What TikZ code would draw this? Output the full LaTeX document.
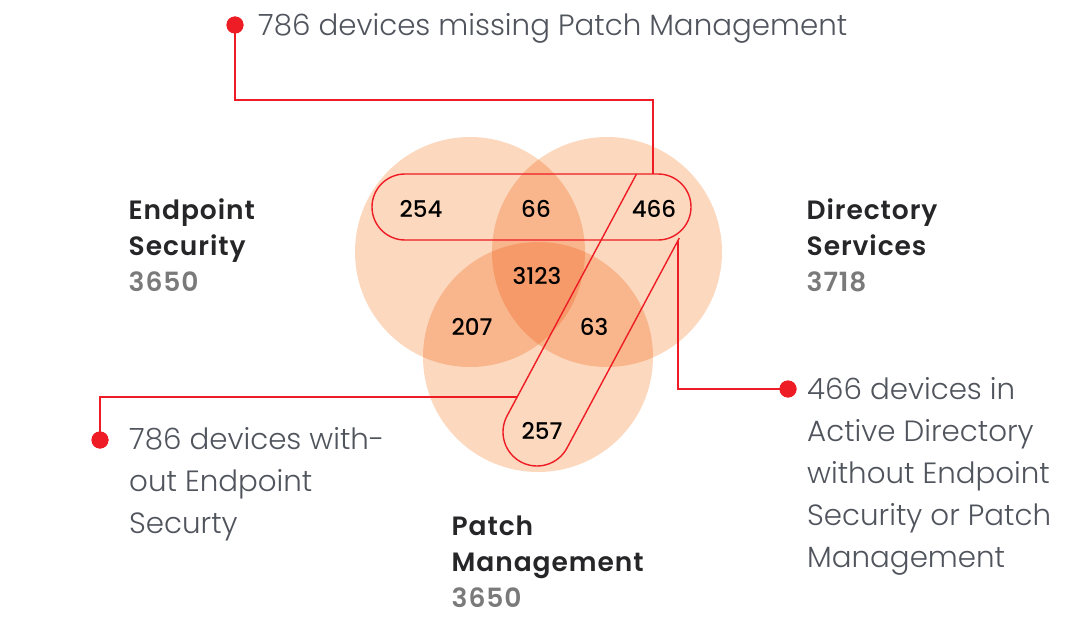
\documentclass[tikz,border=0pt]{standalone}
\usepackage{fontspec}
\setmainfont{Poppins}
\newfontfamily\lightf{Poppins Light}
\newfontfamily\mediumf{Poppins Medium}
\newfontfamily\headf[LetterSpace=3.5]{Poppins SemiBold}
\usetikzlibrary{shapes.misc,calc}
\definecolor{vennfill}{RGB}{252,216,190}
\definecolor{redline}{RGB}{238,28,36}
\definecolor{labelgray}{RGB}{80,84,92}
\definecolor{headdark}{RGB}{38,38,40}
\definecolor{headnum}{RGB}{122,122,122}
\begin{document}
\begin{tikzpicture}[x=1pt,y=-1pt,
  venn/.style={fill=vennfill},
  redl/.style={draw=redline,line width=1.4pt},
  dotnode/.style={circle,fill=redline,inner sep=0pt,minimum size=17pt},
  num/.style={font=\mediumf\fontsize{23}{26}\selectfont,text=black,inner sep=0pt},
  lbl/.style={anchor=base west,inner sep=0pt,text=labelgray,font=\lightf\fontsize{29.3}{42}\selectfont},
  head/.style={anchor=base west,inner sep=0pt,font=\headf\fontsize{26.5}{36}\selectfont}]
\useasboundingbox (0,0) rectangle (1080,634);

% Venn circles
\begin{scope}[blend group=multiply]
  \fill[venn] (470,252) circle[radius=115];
  \fill[venn] (607,252) circle[radius=115];
  \fill[venn] (538,357) circle[radius=115];
\end{scope}

% highlight capsules
\node[redl,rounded rectangle,minimum width=319pt,minimum height=66pt,inner sep=0pt] (hbar) at (531.5,207) {};
\coordinate (B) at (537,432);
\coordinate (ltop) at (636.5,174);
\coordinate (lbot) at ($(B)+(208.15:34)$);
\coordinate (rbot) at ($(B)+(28.15:34)$);
\coordinate (rtop) at (679.3,238.1);
\draw[redl] (ltop) -- (lbot) arc[start angle=208.15,end angle=28.15,radius=34] -- (rtop);

% connector end points
\coordinate (ctop) at (653,174);
\coordinate (cleft) at (517.2,397);
\coordinate (cright) at (678,240.5);

% dots
\node[dotnode] (dtop) at (235,25) {};
\node[dotnode] (dleft) at (100,440) {};
\node[dotnode] (dright) at (788,389) {};

% connectors
\draw[redl] (dtop.center) -- ++(0,75) -| (ctop);
\draw[redl] (dleft.center) |- (cleft);
\draw[redl] (cright) |- (dright.center);
\node[dotnode] at (dtop) {};
\node[dotnode] at (dleft) {};
\node[dotnode] at (dright) {};

% region numbers
\node[num] (n254) at (421,209) {254};
\node[num] (n66) at (536,209) {66};
\node[num] (n466) at (654,209) {466};
\node[num] (n3123) at (537,276) {3123};
\node[num] (n207) at (472,327) {207};
\node[num] (n63) at (594,327) {63};
\node[num] (n257) at (542,431) {257};

% set headings
\node[head] (hes) at (128.5,219.5) {\begin{tabular}[t]{@{}l@{}}\textcolor{headdark}{Endpoint}\\\textcolor{headdark}{Security}\\\textcolor{headnum}{3650}\end{tabular}};
\node[head] (hds) at (806.5,219.5) {\begin{tabular}[t]{@{}l@{}}\textcolor{headdark}{Directory}\\\textcolor{headdark}{Services}\\\textcolor{headnum}{3718}\end{tabular}};
\node[head] (hpm) at (451.5,535) {\begin{tabular}[t]{@{}l@{}}\textcolor{headdark}{Patch}\\\textcolor{headdark}{Management}\\\textcolor{headnum}{3650}\end{tabular}};

% callout labels
\node[lbl] (ltopt) at (258,35.5) {786 devices missing Patch Management};
\node[lbl] (lleft) at (129,449) {\begin{tabular}[t]{@{}l@{}}786 devices with-\\out Endpoint\\Securty\end{tabular}};
\node[lbl] (lright) at (807,399) {\begin{tabular}[t]{@{}l@{}}466 devices in\\Active Directory\\without Endpoint\\Security or Patch\\Management\end{tabular}};
\end{tikzpicture}
\end{document}
